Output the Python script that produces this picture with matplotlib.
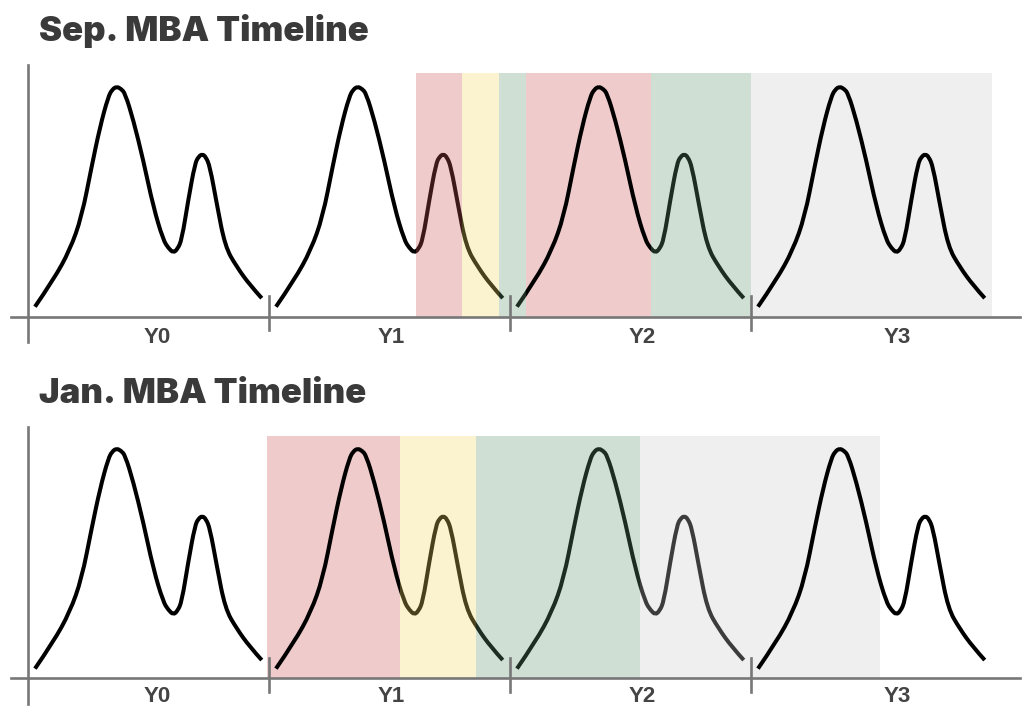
import matplotlib
matplotlib.use('Agg')
import matplotlib.pyplot as plt
from matplotlib.path import Path
from matplotlib.patches import PathPatch

plt.rcParams['font.family'] = ['Liberation Sans', 'DejaVu Sans']

# one cycle of the curve (x in years from the start of the year)
shape_x = [0.031, 0.107, 0.176, 0.225, 0.266, 0.301, 0.335, 0.352, 0.370, 0.388,
           0.405, 0.439, 0.480, 0.522, 0.563, 0.585, 0.605, 0.622, 0.640, 0.667,
           0.695, 0.710, 0.725, 0.740, 0.757, 0.785, 0.820, 0.868, 0.923, 0.972]
shape_y = [0.039, 0.145, 0.265, 0.398, 0.597, 0.756, 0.876, 0.905, 0.916, 0.907,
           0.889, 0.783, 0.624, 0.437, 0.305, 0.272, 0.254, 0.268, 0.305, 0.464,
           0.610, 0.637, 0.647, 0.636, 0.597, 0.451, 0.278, 0.198, 0.125, 0.073]

years = [0, 1, 2, 3]
year_labels = ['Y0', 'Y1', 'Y2', 'Y3']
label_x = [0.54, 1.51, 2.55, 3.61]

# Sep. intake
sep_starts = [1.611, 1.804, 1.955, 2.068, 2.586, 3.001]
sep_ends = [1.804, 1.955, 2.068, 2.586, 3.001, 4.002]
sep_colors = ['#cd5555', '#f5d762', '#629870', '#cd5555', '#629870', '#cacaca']
sep_over = [True, True, True, False, True, False]
sep_front = [False, False, False, False]
sep_top = 0.97

# Jan. intake
jan_starts = [0.995, 1.544, 1.862, 2.541]
jan_ends = [1.544, 1.862, 2.541, 3.537]
jan_colors = ['#cd5555', '#f5d762', '#629870', '#cacaca']
jan_over = [False, True, True, True]
jan_front = [False, False, False, True]
jan_top = 0.967

axis_gris = '#777777'
texto_gris = '#3a3a3a'


def curva(xs, ys):
    # curva suave: los puntos leidos hacen de control de beziers cuadraticas
    verts = [(xs[0], ys[0])]
    codes = [Path.MOVETO]
    for i in range(1, len(xs) - 1):
        verts.append((xs[i], ys[i]))
        if i < len(xs) - 2:
            verts.append(((xs[i] + xs[i + 1]) / 2, (ys[i] + ys[i + 1]) / 2))
        else:
            verts.append((xs[-1], ys[-1]))
        codes += [Path.CURVE3, Path.CURVE3]
    return Path(verts, codes)


def dibujar_panel(ax, starts, ends, colors, over, front, top, y_lim, y_label):
    # bandas de color
    for s, e, c, o in zip(starts, ends, colors, over):
        ax.bar(s, top, width=e - s, align='edge', color=c, alpha=0.3,
               linewidth=0, zorder=4 if o else 1)

    # curvas
    for yr, f in zip(years, front):
        p = curva([yr + x for x in shape_x], shape_y)
        ax.add_patch(PathPatch(p, facecolor='none', edgecolor='black', lw=2.9,
                               capstyle='butt', zorder=6 if f else 3))

    # ejes
    ax.plot([-0.07, 4.12], [0, 0], color=axis_gris, lw=1.9, zorder=5)
    ax.plot([0, 0], [-0.103, 1.002], color=axis_gris, lw=1.9, zorder=5)
    for yr in years[1:]:
        ax.plot([yr, yr], [-0.054, 0.080], color=axis_gris, lw=1.9, zorder=5)

    for lx, lab in zip(label_x, year_labels):
        ax.text(lx, y_label, lab, ha='center', va='center', fontsize=16,
                fontweight='bold', color='#444444')

    ax.set_xlim(-27.5 / 241, (1024 - 27.5) / 241)
    ax.set_ylim(*y_lim)
    ax.axis('off')


fig = plt.figure(figsize=(10.24, 7.09), dpi=100)

ax1 = fig.add_axes([0, 1 - 354 / 709, 1, 304 / 709])
dibujar_panel(ax1, sep_starts, sep_ends, sep_colors, sep_over, sep_front, sep_top,
              ((316.5 - 354) / 251, (316.5 - 50) / 251), -0.083)

ax2 = fig.add_axes([0, 0, 1, 297 / 709])
dibujar_panel(ax2, jan_starts, jan_ends, jan_colors, jan_over, jan_front, jan_top,
              ((678.4 - 709) / 251, (678.4 - 412) / 251), -0.074)

fig.text(39 / 1024, 1 - 40.5 / 709, 'Sep. MBA Timeline', fontsize=25,
         family=['Inter', 'DejaVu Sans'], fontweight='black', color=texto_gris,
         va='baseline')
fig.text(39 / 1024, 1 - 403 / 709, 'Jan. MBA Timeline', fontsize=25,
         family=['Inter', 'DejaVu Sans'], fontweight='black', color=texto_gris,
         va='baseline')

fig.savefig('out.png', dpi=100)
